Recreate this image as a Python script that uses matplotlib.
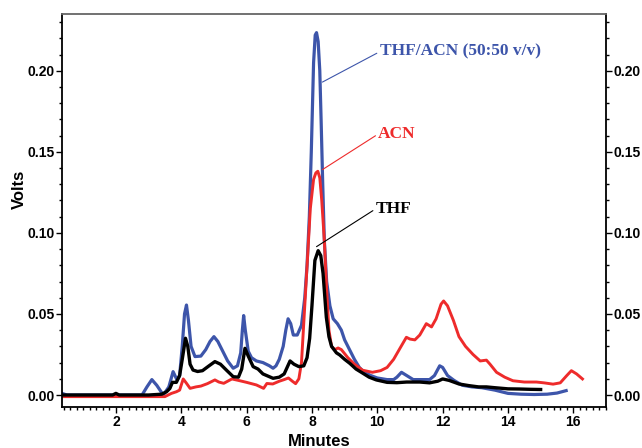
import matplotlib
matplotlib.use('Agg')
import matplotlib.pyplot as plt
from matplotlib.ticker import MultipleLocator, FormatStrFormatter

# THF/ACN (50:50 v/v) trace
blue_x = [0.35, 0.5, 0.7, 2.0, 2.8, 2.95, 3.1, 3.25, 3.45, 3.62, 3.75, 3.87, 3.95, 4.03, 4.1, 4.16, 4.22, 4.3,
          4.42, 4.6, 4.75, 4.88, 5.0, 5.12, 5.27, 5.42, 5.59, 5.72, 5.82, 5.87, 5.91, 5.96, 6.05, 6.15, 6.3,
          6.5, 6.7, 6.81, 6.9, 7.0, 7.12, 7.2, 7.27, 7.35, 7.43, 7.55, 7.68, 7.78, 7.85, 7.92, 7.98, 8.05,
          8.1, 8.14, 8.19, 8.24, 8.28, 8.33, 8.38, 8.45, 8.55, 8.65, 8.78, 8.9, 9.0, 9.15, 9.3, 9.45, 9.6,
          9.8, 10.0, 10.3, 10.5, 10.6, 10.74, 10.9, 11.1, 11.4, 11.6, 11.75, 11.91, 12.0, 12.15, 12.35, 12.6,
          12.9, 13.2, 13.6, 14.0, 14.4, 14.8, 15.2, 15.5, 15.78]
blue_y = [0.001, 0.0, 0.0, 0.0, 0.0, 0.005, 0.0095, 0.006, 0.0, 0.005, 0.0144, 0.0093, 0.012, 0.03, 0.05, 0.0555,
          0.046, 0.03, 0.0237, 0.024, 0.028, 0.033, 0.036, 0.033, 0.027, 0.021, 0.0165, 0.018, 0.026, 0.040,
          0.049, 0.040, 0.027, 0.023, 0.021, 0.020, 0.018, 0.0165, 0.018, 0.022, 0.03, 0.04, 0.047, 0.044,
          0.037, 0.037, 0.043, 0.060, 0.080, 0.11, 0.15, 0.205, 0.222, 0.2235, 0.218, 0.20, 0.17, 0.13, 0.095,
          0.070, 0.055, 0.047, 0.044, 0.040, 0.034, 0.028, 0.022, 0.017, 0.014, 0.012, 0.0105, 0.0095, 0.0095,
          0.011, 0.014, 0.012, 0.0095, 0.0095, 0.0095, 0.012, 0.018, 0.017, 0.012, 0.009, 0.006, 0.005, 0.0045,
          0.003, 0.001, 0.0005, 0.0003, 0.0005, 0.0012, 0.0027]

# ACN trace
red_x = [0.35, 1.0, 2.0, 3.0, 3.5, 3.7, 3.85, 3.95, 4.06, 4.15, 4.27, 4.45, 4.6, 4.8, 5.03, 5.15, 5.3, 5.55,
         5.75, 6.0, 6.3, 6.52, 6.62, 6.8, 7.0, 7.15, 7.28, 7.4, 7.5, 7.6, 7.68, 7.78, 7.88, 7.95, 8.05, 8.12,
         8.18, 8.24, 8.3, 8.38, 8.45, 8.52, 8.6, 8.7, 8.8, 8.9, 9.1, 9.3, 9.55, 9.85, 10.1, 10.3, 10.5, 10.7,
         10.89, 11.0, 11.15, 11.3, 11.5, 11.66, 11.8, 11.95, 12.03, 12.15, 12.33, 12.5, 12.7, 12.93, 13.15,
         13.34, 13.45, 13.65, 13.9, 14.15, 14.5, 14.87, 15.1, 15.38, 15.6, 15.8, 15.94, 16.1, 16.28]
red_y = [-0.001, -0.001, -0.001, -0.001, -0.001, 0.001, 0.002, 0.003, 0.0099, 0.0075, 0.0041, 0.005, 0.0055,
         0.007, 0.0093, 0.008, 0.0072, 0.0099, 0.009, 0.0078, 0.0062, 0.0041, 0.0071, 0.0068, 0.0085, 0.0095,
         0.0105, 0.0085, 0.007, 0.010, 0.02, 0.055, 0.09, 0.115, 0.133, 0.137, 0.138, 0.134, 0.12, 0.095,
         0.065, 0.04, 0.030, 0.028, 0.029, 0.028, 0.023, 0.019, 0.0153, 0.014, 0.015, 0.017, 0.022, 0.029,
         0.0356, 0.0345, 0.034, 0.037, 0.044, 0.042, 0.047, 0.056, 0.058, 0.055, 0.046, 0.036, 0.030, 0.025,
         0.021, 0.0215, 0.019, 0.014, 0.011, 0.0088, 0.008, 0.008, 0.0075, 0.0067, 0.0075, 0.012, 0.015,
         0.013, 0.0099]

# THF trace
black_x = [0.35, 1.9, 2.0, 2.1, 3.0, 3.4, 3.55, 3.65, 3.73, 3.85, 3.95, 4.03, 4.13, 4.2, 4.27, 4.36, 4.5,
           4.65, 4.85, 5.03, 5.2, 5.4, 5.59, 5.75, 5.85, 5.95, 6.05, 6.2, 6.35, 6.5, 6.81, 7.0, 7.15, 7.33,
           7.45, 7.6, 7.75, 7.85, 7.93, 8.0, 8.09, 8.19, 8.27, 8.34, 8.44, 8.52, 8.6, 8.75, 8.85, 9.0, 9.16,
           9.35, 9.56, 9.75, 9.97, 10.3, 10.6, 10.9, 11.3, 11.6, 11.85, 12.0, 12.2, 12.5, 12.8, 13.1, 13.34,
           13.6, 14.0, 14.35, 14.7, 15.0]
black_y = [0.0, 0.0, 0.001, 0.0, 0.0, 0.0005, 0.002, 0.004, 0.0078, 0.0078, 0.012, 0.022, 0.035, 0.030, 0.019,
           0.0154, 0.0145, 0.015, 0.018, 0.0206, 0.019, 0.015, 0.0113, 0.011, 0.016, 0.0288, 0.024, 0.0175,
           0.016, 0.013, 0.0103, 0.011, 0.013, 0.021, 0.019, 0.0175, 0.018, 0.023, 0.035, 0.055, 0.083, 0.089,
           0.086, 0.075, 0.048, 0.036, 0.030, 0.026, 0.0247, 0.022, 0.0195, 0.016, 0.0134, 0.011, 0.0093,
           0.0078, 0.0076, 0.008, 0.008, 0.0075, 0.0085, 0.0099, 0.009, 0.0068, 0.0058, 0.005, 0.005, 0.0045,
           0.0038, 0.0037, 0.0035, 0.0034]

x_ticks = [2, 4, 6, 8, 10, 12, 14, 16]
y_ticks = [0.0, 0.05, 0.10, 0.15, 0.20]

BLUE = '#3d55aa'
RED = '#ee2b2b'
BLACK = '#000000'


def main():
    fig = plt.figure(figsize=(6.42, 4.48), dpi=100)
    ax = fig.add_axes([62 / 642, 1 - 407 / 448, (606 - 62) / 642, (407 - 14) / 448])

    ax.plot(blue_x, blue_y, color=BLUE, lw=2.3, solid_joinstyle='round')
    ax.plot(red_x, red_y, color=RED, lw=2.1, solid_joinstyle='round')
    ax.plot(black_x, black_y, color=BLACK, lw=2.4, solid_joinstyle='round')

    ax.set_xlim(0.35, 17.0)
    ax.set_ylim(-0.0074, 0.235)
    ax.set_xticks(x_ticks)
    ax.set_yticks(y_ticks)
    ax.xaxis.set_minor_locator(MultipleLocator(0.2))
    ax.yaxis.set_minor_locator(MultipleLocator(0.01))
    ax.yaxis.set_major_formatter(FormatStrFormatter('%.2f'))

    ax.tick_params(which='both', direction='out', right=True, labelright=True, width=1.0, colors='black')
    ax.tick_params(which='major', length=4, pad=1.5)
    ax.tick_params(which='minor', length=2.5)
    for lab in ax.get_xticklabels() + ax.get_yticklabels():
        lab.set_fontfamily('Liberation Sans')
        lab.set_fontweight('bold')
        lab.set_fontsize(10)
    for lab in ax.yaxis.get_ticklabels(which='major'):
        pass
    ax.yaxis.set_tick_params(labelright=True)
    for t in ax.yaxis.get_major_ticks():
        t.label2.set_fontfamily('Liberation Sans')
        t.label2.set_fontweight('bold')
        t.label2.set_fontsize(10)

    for side in ['left', 'bottom', 'right']:
        ax.spines[side].set_linewidth(1.3)
        ax.spines[side].set_color('black')
    ax.spines['top'].set_linewidth(1.3)
    ax.spines['top'].set_color('#666666')

    # labels with leader lines
    notes = [('THF/ACN (50:50 v/v)', BLUE, (8.32, 0.193), (10.07, 0.2117)),
             ('ACN', RED, (8.32, 0.139), (10.03, 0.161)),
             ('THF', BLACK, (8.14, 0.0915), (9.95, 0.1148))]
    for text, col, xy, xytext in notes:
        ax.annotate(text, xy=xy, xytext=xytext, color=col, fontsize=12.5, fontweight='bold',
                    fontfamily='Liberation Serif', va='center', ha='left',
                    arrowprops=dict(arrowstyle='-', color=col, lw=0.8, relpos=(0, 0.5),
                                    shrinkA=0, shrinkB=0))

    fig.text(19 / 642, 1 - 189 / 448, 'Volts', rotation=90, ha='center', va='center',
             fontsize=12, fontweight='bold', fontfamily='Liberation Sans')
    fig.text(319 / 642, 1 - 441 / 448, 'Minutes', ha='center', va='center',
             fontsize=12, fontweight='bold', fontfamily='Liberation Sans')

    fig.savefig('out.png', dpi=100)


if __name__ == "__main__":
    main()
